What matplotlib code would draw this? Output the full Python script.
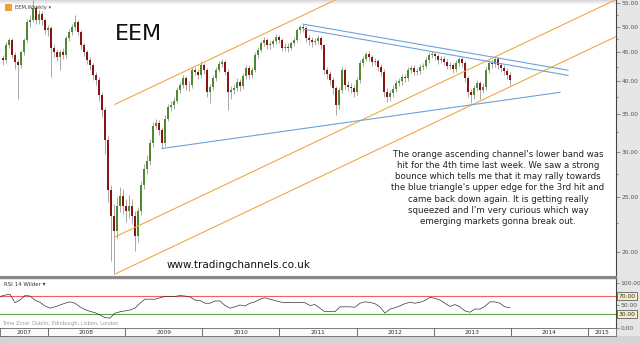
import numpy as np
import matplotlib
matplotlib.use('Agg')
import matplotlib.pyplot as plt
from matplotlib.patches import Rectangle
from matplotlib.ticker import FixedLocator, FuncFormatter, NullFormatter

# EEM candles, one about every two weeks (May 2007 - Dec 2013)
t0 = 2007.417
dt = 0.0389
first_open = 44.0
closes = [43.6, 46.3, 47.3, 44.5, 43.3, 42.7, 45.0, 47.3, 50.9, 51.3,
          53.9, 51.3, 52.6, 51.3, 49.3, 49.7, 45.8, 45.0, 44.1, 45.0,
          44.5, 47.7, 48.9, 49.9, 50.9, 48.9, 46.3, 45.0, 43.6, 42.7,
          41.0, 40.2, 37.8, 35.6, 31.5, 25.7, 23.1, 21.8, 24.1, 25.1,
          24.1, 23.6, 24.1, 23.1, 21.3, 23.6, 26.2, 28.0, 29.0, 31.1,
          33.4, 33.8, 32.8, 31.1, 34.4, 36.0, 36.3, 37.0, 38.6, 39.4,
          40.5, 39.4, 39.4, 41.9, 41.6, 41.0, 42.7, 41.9, 38.3, 39.1,
          40.5, 41.9, 42.9, 43.3, 41.6, 38.3, 38.6, 38.9, 39.9, 39.2,
          40.9, 42.2, 41.0, 41.9, 44.5, 45.4, 46.7, 47.3, 46.3, 46.5,
          47.1, 47.9, 47.3, 45.9, 46.1, 45.9, 46.7, 47.3, 49.3, 49.9,
          49.7, 47.7, 47.3, 46.9, 47.1, 47.7, 46.3, 41.9, 41.2, 40.2,
          38.9, 36.3, 38.6, 41.9, 39.4, 39.1, 38.9, 38.3, 40.2, 43.1,
          43.9, 44.8, 44.1, 43.3, 43.4, 42.4, 41.6, 38.3, 37.5, 38.1,
          38.8, 39.7, 40.0, 40.7, 40.5, 41.9, 42.2, 41.6, 41.7, 42.4,
          42.6, 43.6, 44.5, 44.8, 44.3, 43.6, 43.8, 43.3, 42.6, 42.7,
          42.0, 43.1, 43.8, 43.1, 40.5, 38.3, 37.8, 38.9, 39.7, 38.6,
          39.1, 41.9, 43.1, 42.9, 43.8, 42.7, 42.2, 41.7, 41.0, 40.2]
highs = [44.6, 46.9, 47.8, 47.7, 45.0, 43.8, 45.5, 47.8, 51.5, 52.3,
         55.6, 54.5, 53.4, 53.2, 51.8, 50.4, 50.1, 46.4, 45.6, 45.5,
         45.9, 48.2, 49.5, 50.6, 52.4, 51.4, 49.3, 46.8, 45.5, 44.1,
         43.2, 41.5, 40.8, 38.3, 36.0, 32.0, 26.2, 24.3, 25.0, 26.0,
         25.8, 24.8, 25.2, 24.8, 23.6, 24.0, 26.7, 28.6, 29.6, 31.6,
         33.9, 34.4, 34.2, 33.2, 34.9, 36.5, 36.9, 37.6, 39.1, 39.9,
         41.0, 40.9, 40.1, 42.4, 42.5, 42.1, 43.4, 43.2, 42.3, 39.6,
         41.0, 42.4, 43.4, 43.9, 43.7, 42.0, 39.3, 39.6, 40.5, 40.4,
         41.4, 42.8, 42.7, 42.5, 45.0, 46.0, 47.2, 47.9, 47.8, 47.1,
         47.6, 48.5, 48.4, 47.8, 46.7, 46.7, 47.2, 47.9, 49.8, 50.4,
         50.6, 50.1, 48.3, 47.9, 47.7, 48.3, 48.2, 46.6, 42.5, 41.8,
         40.7, 39.3, 39.1, 42.5, 42.3, 40.0, 39.7, 39.4, 40.7, 43.6,
         44.4, 45.1, 45.2, 44.6, 44.0, 43.9, 42.9, 42.0, 38.9, 38.7,
         39.4, 40.2, 40.6, 41.2, 41.2, 42.4, 42.8, 42.7, 42.3, 42.9,
         43.2, 44.1, 45.0, 45.2, 45.1, 44.8, 44.4, 44.3, 43.8, 43.3,
         43.2, 43.6, 44.1, 44.2, 43.5, 40.9, 38.8, 39.4, 40.2, 40.1,
         39.7, 42.4, 43.6, 43.6, 44.0, 44.2, 43.2, 42.7, 42.2, 41.5]
lows = [42.8, 43.2, 45.8, 44.0, 42.0, 37.3, 42.2, 44.6, 47.0, 50.0,
        51.0, 50.6, 50.5, 50.4, 48.5, 48.2, 40.7, 44.2, 43.5, 41.9,
        43.8, 44.0, 47.2, 48.4, 49.4, 48.3, 45.7, 44.3, 42.9, 41.9,
        40.3, 39.4, 37.0, 34.6, 29.8, 24.5, 19.3, 18.3, 21.2, 23.5,
        23.3, 22.6, 23.0, 22.4, 20.1, 20.8, 23.2, 25.8, 27.5, 28.5,
        30.6, 32.9, 32.2, 30.5, 30.8, 34.0, 35.5, 35.8, 36.6, 38.1,
        39.0, 38.6, 38.4, 39.0, 41.0, 40.4, 40.6, 41.3, 37.6, 36.6,
        38.7, 40.1, 41.5, 42.5, 41.0, 35.6, 37.3, 38.0, 38.4, 38.5,
        38.8, 40.4, 40.4, 40.5, 41.5, 44.0, 45.0, 46.2, 45.6, 45.7,
        46.0, 46.6, 46.7, 45.2, 45.3, 45.0, 45.4, 46.2, 46.9, 48.8,
        49.0, 47.0, 46.4, 46.0, 46.3, 46.6, 45.7, 41.2, 40.4, 39.5,
        38.0, 34.9, 35.8, 38.2, 38.8, 38.4, 38.2, 37.6, 37.9, 39.8,
        42.6, 43.4, 43.4, 42.6, 42.7, 41.8, 40.9, 37.6, 36.8, 37.0,
        37.6, 38.3, 39.2, 39.5, 39.9, 40.1, 41.4, 41.0, 41.0, 41.2,
        41.9, 42.2, 43.1, 44.0, 43.7, 43.0, 43.1, 42.7, 42.0, 42.0,
        41.4, 41.6, 42.6, 42.5, 39.9, 37.5, 36.6, 37.3, 38.4, 37.3,
        38.1, 38.7, 41.4, 42.3, 42.4, 42.1, 41.6, 41.1, 40.4, 39.3]

# RSI 14 (Wilder), read about every 3.4 weeks
rsi_t0 = 2007.378
rsi_dt = 0.0648
rsi = [70, 73, 75, 56, 62, 72, 71, 62, 57, 49, 44, 47, 51, 55, 58, 55, 47, 41, 37, 34,
       29, 23, 22, 33, 36, 38, 40, 44, 55, 64, 64, 64, 67, 70, 70, 70, 72, 71, 69, 62,
       61, 55, 55, 60, 60, 50, 44, 47, 51, 49, 55, 58, 64, 67, 64, 61, 58, 56, 57, 56,
       57, 56, 50, 52, 44, 36, 37, 36, 47, 47, 47, 46, 55, 58, 57, 54, 47, 33, 42, 45,
       49, 54, 57, 55, 57, 61, 68, 66, 62, 55, 48, 52, 47, 38, 35, 42, 42, 48, 58, 58,
       55, 47, 45]

price_ticks = [20, 25, 30, 35, 40, 45, 50, 55]
years = [2007, 2008, 2009, 2010, 2011, 2012, 2013, 2014, 2015]
x_start, x_end = 2007.378, 2015.363

# trend lines (date, price) -> (date, price)
orange_lines = [(2008.869, 36.44, 2015.363, 95.7),
                (2008.869, 21.26, 2015.363, 55.8),
                (2008.869, 18.28, 2015.363, 48.0)]
blue_lines = [(2011.306, 50.5, 2014.741, 41.87),
              (2011.306, 49.5, 2014.741, 41.0),
              (2009.478, 30.45, 2014.637, 38.27)]

note = ("The orange ascending channel's lower band was\n"
        "hit for the 4th time last week. We saw a strong\n"
        "bounce which tells me that it may rally towards\n"
        "the blue triangle's upper edge for the 3rd hit and\n"
        "came back down again. It is getting really\n"
        "squeezed and I'm very curious which way\n"
        "emerging markets gonna break out.")

W, H = 640, 343
fig = plt.figure(figsize=(6.4, 3.43), dpi=100)
fig.patch.set_facecolor('white')

def fx(px):
    return px / W

def fy(py):
    return 1 - py / H

# background strips
fig.patches.append(Rectangle((fx(616), 0), fx(24), 1, transform=fig.transFigure,
                             facecolor='#e6e6e6', edgecolor='none', zorder=-5))
fig.patches.append(Rectangle((0, 0), 1, 7 / H, transform=fig.transFigure,
                             facecolor='#d4d4d4', edgecolor='none', zorder=-5))
for k, c in enumerate(['#d9d9d9', '#e3e3e3', '#ececec', '#f5f5f5']):
    fig.patches.append(Rectangle((0, fy(k + 1)), fx(616), 1 / H, transform=fig.transFigure,
                                 facecolor=c, edgecolor='none', zorder=-5))

# ---- main price panel
ax = fig.add_axes([0, fy(277), fx(616), 277 / H])
ax.set_facecolor('none')
dates = t0 + np.arange(len(closes)) * dt
c = np.array(closes)
o = np.array([first_open] + closes[:-1])
up = c >= o
ax.vlines(dates, lows, highs, color='#9a9a9a', lw=0.6, zorder=2)
ax.bar(dates, np.abs(c - o), bottom=np.minimum(o, c), width=dt * 0.6,
       color=np.where(up, '#4f8a2e', '#8a1414'), edgecolor='none', zorder=3)

for x1, y1, x2, y2 in orange_lines:
    ax.plot([x1, x2], [y1, y2], color='#f0a848', lw=0.8, zorder=4)
for x1, y1, x2, y2 in blue_lines:
    ax.plot([x1, x2], [y1, y2], color='#6ea2dc', lw=0.8, zorder=4)

ax.set_yscale('log')
ax.set_xlim(x_start, x_end)
ax.set_ylim(18.06, 55.7)
ax.yaxis.tick_right()
ax.yaxis.set_major_locator(FixedLocator(price_ticks))
ax.yaxis.set_major_formatter(FuncFormatter(lambda v, p: '%.2f' % v))
ax.yaxis.set_minor_locator(FixedLocator(np.arange(17.5, 57.6, 2.5)))
ax.yaxis.set_minor_formatter(NullFormatter())
ax.tick_params(axis='y', which='major', length=3, width=0.5, color='#666',
               labelsize=4.3, labelcolor='#555', pad=1)
ax.tick_params(axis='y', which='minor', length=1.5, width=0.5, color='#666')
ax.set_xticks([])
for s in ['left', 'top']:
    ax.spines[s].set_visible(False)
ax.spines['right'].set_color('#444')
ax.spines['right'].set_linewidth(0.8)
ax.spines['bottom'].set_color('#888')
ax.spines['bottom'].set_linewidth(1.5)

# ---- RSI panel
ax2 = fig.add_axes([0, fy(328), fx(616), 50 / H])
ax2.set_facecolor('none')
rsi_dates = rsi_t0 + np.arange(len(rsi)) * rsi_dt
ax2.axhline(70, color='#f06060', lw=0.8)
ax2.axhline(30, color='#5aaa4a', lw=0.8)
ax2.plot(rsi_dates, rsi, color='#333333', lw=0.5)
ax2.set_xlim(x_start, x_end)
ax2.set_ylim(0, 111)
ax2.yaxis.tick_right()
ax2.set_yticks([0, 30, 50, 70, 100])
ax2.set_yticklabels(['0.00', '', '50.00', '', '100.00'])
ax2.tick_params(axis='y', length=2, width=0.5, color='#666', labelsize=4.3,
                labelcolor='#555', pad=1)
for v in [70, 30]:
    ax2.text(1.004, v, '%.2f' % v, transform=ax2.get_yaxis_transform(), fontsize=4.3,
             va='center', ha='left', color='#333',
             bbox=dict(boxstyle='square,pad=0.25', facecolor='#f4efc4', edgecolor='#444', lw=0.5))
ax2.set_xticks([])
for s in ['left', 'bottom']:
    ax2.spines[s].set_visible(False)
ax2.spines['top'].set_color('#888')
ax2.spines['top'].set_linewidth(1.0)
ax2.spines['right'].set_color('#444')
ax2.spines['right'].set_linewidth(0.8)

# ---- date strip
ax3 = fig.add_axes([0, fy(336), fx(616), 8 / H])
ax3.set_facecolor('#fafafa')
ax3.set_xlim(x_start, x_end)
ax3.set_ylim(0, 1)
for y in years[1:]:
    ax3.axvline(y, color='#555', lw=0.6)
for y in years:
    mid = (max(y, x_start) + min(y + 1, x_end)) / 2
    ax3.text(mid, 0.5, str(y), fontsize=4.2, ha='center', va='center', color='#333')
ax3.set_xticks([])
ax3.set_yticks([])
for s in ax3.spines.values():
    s.set_color('#666')
    s.set_linewidth(0.6)

# ---- texts
fig.patches.append(Rectangle((fx(5), fy(11)), fx(7), 7 / H, transform=fig.transFigure,
                             facecolor='#f0a030', edgecolor='none', zorder=5))
fig.text(fx(15), fy(7), 'EEM,Weekly \u25be', fontsize=3.8, color='#444', va='center')
fig.text(fx(115), fy(34), 'EEM', fontsize=16, color='#111', va='center', ha='left')
fig.text(fx(239), fy(265), 'www.tradingchannels.co.uk', fontsize=7.5, color='#111',
         va='center', ha='center')
fig.text(fx(498), fy(188), note, fontsize=6.2, color='#222', va='center', ha='center',
         multialignment='center', linespacing=1.3)
fig.text(fx(4), fy(285), 'RSI 14 Wilder \u25be', fontsize=4.0, color='#333', va='center')
fig.text(fx(2), fy(324), 'Time Zone: Dublin, Edinburgh, Lisbon, London', fontsize=3.6,
         color='#999', va='center')

fig.savefig('out.png', dpi=100)
